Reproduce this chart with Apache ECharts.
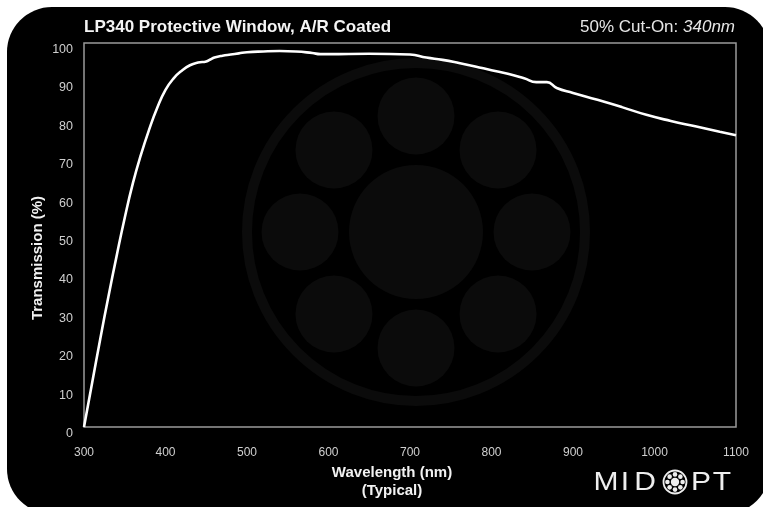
<!DOCTYPE html>
<html>
<head>
<meta charset="utf-8">
<title>LP340 Protective Window, A/R Coated</title>
<script src="https://cdn.jsdelivr.net/npm/echarts@6/dist/echarts.min.js"></script>
<style>
  html, body { margin: 0; padding: 0; background: #fff; }
  #chart { width: 763px; height: 507px; }
</style>
</head>
<body>
<div id="chart"></div>
<script>
// Transmission curve of the LP340 window (wavelength in nm, transmission in %)
const wavelengths = [300, 310, 320, 330, 340, 350, 360, 370, 380, 390, 400, 410, 420, 430, 440, 450,
  455, 460, 470, 480, 490, 500, 520, 540, 560, 580, 590, 600, 650, 700, 720, 740, 760, 780, 800, 820, 840,
  855, 868, 880, 900, 930, 960, 990, 1020, 1050, 1080, 1100];
const transmission = [0, 11.5, 23, 34, 44.5, 54.5, 63.5, 71, 77.5, 83.2, 87.8, 90.8, 92.8, 94.2, 94.9, 95.2,
  95.7, 96.2, 96.7, 97, 97.3, 97.6, 97.8, 97.9, 97.8, 97.4, 97.1, 97.1, 97.2, 97.0, 96.2, 95.6, 94.8, 93.9, 92.9, 92.0, 90.8,
  89.8, 89.8, 88.3, 87.0, 85.2, 83.3, 81.3, 79.7, 78.3, 76.9, 76.0];

const xTicks = { min: 300, max: 1100, step: 100 };
const yTicks = { min: 0, max: 100, step: 10 };

const titleText = 'LP340 Protective Window, A/R Coated';
const cutOnLabel = '50% Cut-On: ';
const cutOnValue = '340nm';

const curve = wavelengths.map((w, i) => [w, transmission[i]]);

const chart = echarts.init(document.getElementById('chart'), null, { renderer: 'canvas' });

const mark = '#0b0b0b';
const fontFamily = '"Liberation Sans", Arial, Helvetica, sans-serif';
const logoFont = '25px "Liberation Sans", Arial, sans-serif';
const logoColor = '#eeeeee';

// decorative watermark: ring with a large hub and eight satellites
const wmCx = 416, wmCy = 232;
const watermark = [{
  type: 'circle', z: -5, silent: true,
  shape: { cx: wmCx, cy: wmCy, r: 169 },
  style: { fill: null, stroke: mark, lineWidth: 10 }
}, {
  type: 'circle', z: -5, silent: true,
  shape: { cx: wmCx, cy: wmCy, r: 67 },
  style: { fill: mark }
}];
for (let k = 0; k < 8; k++) {
  const a = k * Math.PI / 4;
  watermark.push({
    type: 'circle', z: -5, silent: true,
    shape: { cx: wmCx + 116 * Math.sin(a), cy: wmCy - 116 * Math.cos(a), r: 38.5 },
    style: { fill: mark }
  });
}

// MIDOPT logo in the lower right corner, wide letters placed one by one
const logoCx = 675, logoCy = 482;
const logoLetters = [['M', 606], ['I', 625], ['D', 645], ['P', 701], ['T', 722]];
const logo = logoLetters.map(([ch, cx]) => ({
  type: 'text', z: 20, silent: true,
  x: cx, y: 483, scaleX: 1.2,
  style: { text: ch, x: 0, y: 0, align: 'center', verticalAlign: 'middle', fill: logoColor, font: logoFont }
}));
logo.push({
  type: 'circle', z: 20, silent: true,
  shape: { cx: logoCx, cy: logoCy, r: 11.5 },
  style: { fill: null, stroke: logoColor, lineWidth: 1.8 }
}, {
  type: 'circle', z: 20, silent: true,
  shape: { cx: logoCx, cy: logoCy, r: 4.2 },
  style: { fill: logoColor }
});
for (let k = 0; k < 8; k++) {
  const a = k * Math.PI / 4;
  logo.push({
    type: 'circle', z: 20, silent: true,
    shape: { cx: logoCx + 7.6 * Math.sin(a), cy: logoCy - 7.6 * Math.cos(a), r: 2.3 },
    style: { fill: logoColor }
  });
}

const option = {
  backgroundColor: '#ffffff',
  animation: false,
  textStyle: { fontFamily: fontFamily },
  grid: {
    left: 84, right: 27, top: 43, bottom: 80,
    show: true, borderColor: '#9a9a9a', borderWidth: 1.5, backgroundColor: 'transparent'
  },
  xAxis: {
    type: 'value',
    min: xTicks.min, max: xTicks.max, interval: xTicks.step,
    axisLine: { show: false },
    axisTick: { show: false },
    splitLine: { show: false },
    axisLabel: { color: '#cfcfcf', fontSize: 12, margin: 20, fontFamily: fontFamily, formatter: v => String(v) },
    name: 'Wavelength (nm)\n(Typical)',
    nameLocation: 'middle',
    nameGap: 37,
    nameTextStyle: { color: '#f2f2f2', fontSize: 15, fontWeight: 'bold', lineHeight: 18, fontFamily: fontFamily,
      padding: [0, 36, 0, 0] }
  },
  yAxis: {
    type: 'value',
    min: yTicks.min, max: yTicks.max, interval: yTicks.step,
    axisLine: { show: false },
    axisTick: { show: false },
    splitLine: { show: false },
    axisLabel: { color: '#cfcfcf', fontSize: 12.5, margin: 11, verticalAlign: 'top', fontFamily: fontFamily },
    name: 'Transmission (%)',
    nameLocation: 'middle',
    nameGap: 39,
    nameMoveOverlap: false,
    nameTextStyle: { color: '#f2f2f2', fontSize: 15, fontWeight: 'bold', fontFamily: fontFamily,
      padding: [0, 46, 0, 0] }
  },
  graphic: [{
    type: 'rect', z: -10, silent: true,
    shape: { x: 7, y: 7, width: 763, height: 507, r: 45 },
    style: { fill: '#000000' }
  }].concat(watermark).concat(logo).concat([{
    type: 'text', z: 20, silent: true,
    style: { text: titleText, x: 84, y: 27, verticalAlign: 'middle', fill: '#f4f4f4',
      font: 'bold 17px ' + fontFamily }
  }, {
    type: 'text', z: 20, silent: true,
    style: {
      text: cutOnLabel + '{i|' + cutOnValue + '}',
      x: 735, y: 27, align: 'right', verticalAlign: 'middle', fill: '#e6e6e6',
      font: '17px ' + fontFamily,
      rich: { i: { fontStyle: 'italic', fontSize: 17, fill: '#e6e6e6', fontFamily: fontFamily } }
    }
  }]),
  series: [{
    type: 'line',
    data: curve,
    smooth: 0.5,
    showSymbol: false,
    z: 5,
    lineStyle: { color: '#ffffff', width: 2.6 }
  }]
};

chart.setOption(option);
</script>
</body>
</html>
